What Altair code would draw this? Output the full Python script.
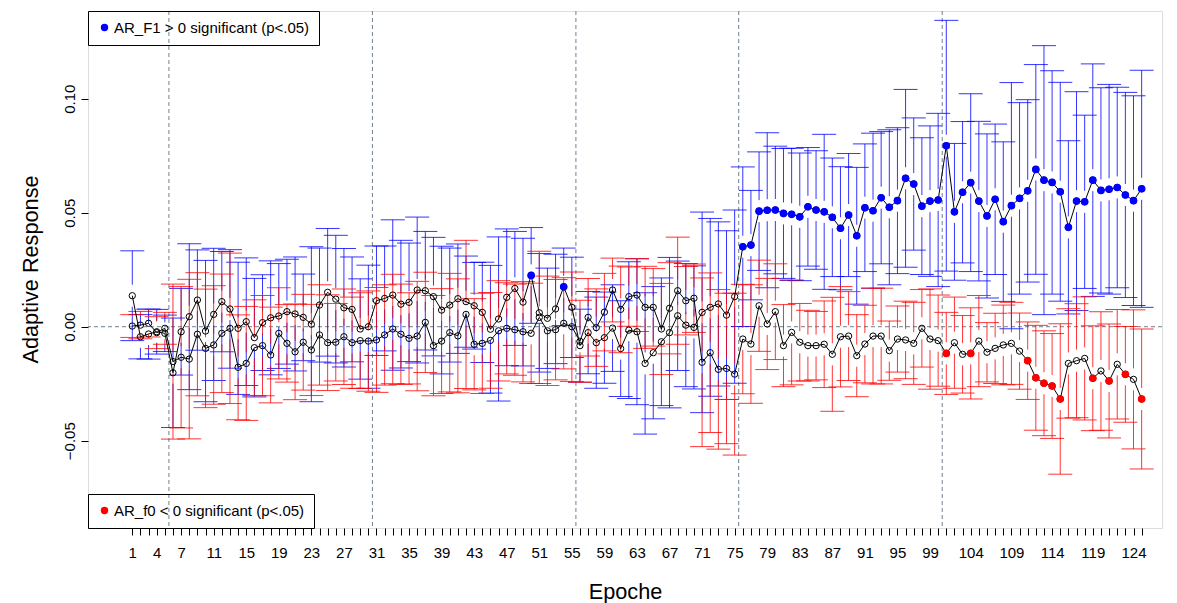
import altair as alt
import pandas as pd

# ---- data -------------------------------------------------------------
epochs = list(range(1, 126))

# adaptive response for F1 (mean) and its 95% CI half-width
ar_f1 = [
    0.0136, -0.0044, -0.0032, -0.0022, -0.0029, -0.0202, -0.0022, 0.0044, 0.0117, -0.0019,
    0.0054, 0.0110, 0.0078, -0.0007, 0.0022,
    -0.0048, 0.0018, 0.0039, 0.0047, 0.0066, 0.0056, 0.0041, 0.0011, 0.0095, 0.0151,
    0.0121, 0.0083, 0.0076, -0.0010, 0.0000, 0.0114,
    0.0124, 0.0139, 0.0099, 0.0107, 0.0161, 0.0158, 0.0132, 0.0073, 0.0095, 0.0123,
    0.0110, 0.0092, 0.0063, -0.0011, 0.0034, 0.0129,
    0.0168, 0.0108, 0.0225, 0.0061, 0.0037, 0.0078, 0.0175, 0.0085, -0.0083, -0.0026,
    -0.0070, -0.0048, -0.0006, -0.0096, -0.0015, -0.0022,
    -0.0161, -0.0114, -0.0066, -0.0026, 0.0048, 0.0007, -0.0003, 0.0063, 0.0085, 0.0100,
    0.0051, 0.0132, 0.0351, 0.0358, 0.0507, 0.0511,
    0.0512, 0.0497, 0.0493, 0.0482, 0.0526, 0.0512, 0.0504, 0.0480, 0.0432, 0.0490,
    0.0399, 0.0522, 0.0509, 0.0566, 0.0524, 0.0553,
    0.0651, 0.0626, 0.0529, 0.0551, 0.0556, 0.0794, 0.0504, 0.0590, 0.0632, 0.0551,
    0.0486, 0.0559, 0.0461, 0.0531, 0.0563, 0.0596,
    0.0690, 0.0643, 0.0633, 0.0592, 0.0436, 0.0551, 0.0548, 0.0643, 0.0598, 0.0603,
    0.0611, 0.0578, 0.0553, 0.0605,
]
ar_f1_ci = [
    0.0197, 0.0097, 0.0110, 0.0098, 0.0080, 0.024, 0.019, 0.032, 0.022, 0.031,
    0.029, 0.022, 0.026, 0.029, 0.028,
    0.026, 0.021, 0.025, 0.023, 0.023, 0.025, 0.019, 0.034, 0.025, 0.028,
    0.028, 0.026, 0.023, 0.022, 0.027, 0.024,
    0.023, 0.033, 0.028, 0.026, 0.032, 0.026, 0.026, 0.028, 0.025, 0.024,
    0.020, 0.019, 0.022, 0.028, 0.036, 0.030,
    0.025, 0.028, 0.021, 0.026, 0.022, 0.024, 0.017, 0.022, 0.016, 0.018,
    0.020, 0.020, 0.019, 0.021, 0.030, 0.032,
    0.031, 0.029, 0.028, 0.033, 0.024, 0.027, 0.027, 0.044, 0.039, 0.036,
    0.037, 0.038, 0.035, 0.024, 0.026, 0.034,
    0.028, 0.0285, 0.029, 0.028, 0.026, 0.026, 0.034, 0.026, 0.027, 0.027,
    0.030, 0.028, 0.034, 0.029, 0.034, 0.032,
    0.039, 0.029, 0.030, 0.033, 0.038, 0.055, 0.030, 0.031, 0.039, 0.035,
    0.036, 0.033, 0.035, 0.054, 0.042, 0.040,
    0.046, 0.059, 0.049, 0.048, 0.038, 0.048, 0.038, 0.051, 0.045, 0.046,
    0.044, 0.045, 0.046, 0.052,
]

# adaptive response for f0 (mean) and its 95% CI half-width
ar_f0 = [
    0.0003, 0.0007, 0.0015, -0.0026, -0.0007, -0.0153, -0.0134, -0.0142, -0.0033, -0.0095,
    -0.0080, -0.0029, -0.0007, -0.0178, -0.0161,
    -0.0092, -0.0083, -0.0124, -0.0029, -0.0073, -0.0110, -0.0068, -0.0102, -0.0036, -0.0070,
    -0.0068, -0.0044, -0.0070, -0.0061, -0.0063, -0.0058,
    -0.0036, -0.0010, -0.0033, -0.0051, -0.0041, 0.0019, -0.0083, -0.0063, -0.0026, -0.0040,
    0.0054, -0.0077, -0.0073, -0.0060, -0.0018, -0.0007,
    -0.0013, -0.0022, -0.0029, 0.0041, -0.0018, -0.0013, 0.0015, 0.0000, -0.0064, 0.0041,
    -0.0004, 0.0064, 0.0161, 0.0076, 0.0132, 0.0139,
    0.0085, 0.0085, -0.0010, 0.0081, 0.0158, 0.0114, 0.0125, -0.0156, -0.0114, -0.0187,
    -0.0183, -0.0208, -0.0054, -0.0076, 0.0092, 0.0012,
    0.0066, -0.0083, -0.0025, -0.0068, -0.0083, -0.0083, -0.0077, -0.0121, -0.0044, -0.0041,
    -0.0127, -0.0076, -0.0041, -0.0041, -0.0105, -0.0054,
    -0.0058, -0.0073, -0.0007, -0.0054, -0.0061, -0.0117, -0.0070, -0.0121, -0.0117, -0.0063,
    -0.0112, -0.0095, -0.0080, -0.0073, -0.0107, -0.0149,
    -0.0224, -0.0248, -0.0260, -0.0317, -0.0161, -0.0149, -0.0139, -0.0226, -0.0194, -0.0238,
    -0.0165, -0.0209, -0.0231, -0.0317,
]
ar_f0_ci = [
    0.005, 0.006, 0.006, 0.007, 0.007, 0.034, 0.031, 0.035, 0.027, 0.026,
    0.026, 0.026, 0.033, 0.023, 0.025,
    0.021, 0.022, 0.021, 0.020, 0.017, 0.021, 0.021, 0.020, 0.022, 0.021,
    0.017, 0.021, 0.020, 0.021, 0.022, 0.023,
    0.022, 0.024, 0.022, 0.020, 0.024, 0.022, 0.022, 0.023, 0.026, 0.025,
    0.0325, 0.020, 0.022, 0.021, 0.022, 0.020,
    0.020, 0.022, 0.022, 0.029, 0.024, 0.022, 0.020, 0.024, 0.018, 0.017,
    0.017, 0.017, 0.014, 0.019, 0.013, 0.016,
    0.018, 0.017, 0.020, 0.020, 0.0235, 0.015, 0.015, 0.037, 0.035, 0.035,
    0.033, 0.0355, 0.024, 0.026, 0.020, 0.020,
    0.021, 0.018, 0.023, 0.017, 0.0155, 0.015, 0.019, 0.025, 0.022, 0.0195,
    0.018, 0.017, 0.021, 0.021, 0.013, 0.0145,
    0.017, 0.018, 0.017, 0.022, 0.020, 0.018, 0.020, 0.017, 0.020, 0.020,
    0.013, 0.0154, 0.0175, 0.018, 0.0167, 0.017,
    0.023, 0.023, 0.023, 0.033, 0.024, 0.025, 0.027, 0.023, 0.026, 0.025,
    0.024, 0.021, 0.0305, 0.0307,
]

# epochs with a significant test result (p < .05)
f1_sig_epochs = [50, 54] + list(range(76, 126))
f0_sig_epochs = [101, 104, 111, 112, 113, 114, 115, 119, 121, 123, 125]

# phase boundaries (between epochs) and the zero reference
phase_breaks = [5.5, 30.5, 55.5, 75.5, 100.5]
zero_line = [0.0]

# tick labels shown on the epoch axis
x_label_epochs = [1, 4, 7, 11, 15, 19, 23, 27, 31, 35, 39, 43, 47, 51, 55, 59, 63,
                  67, 71, 75, 79, 83, 87, 91, 95, 99, 104, 109, 114, 119, 124]
y_ticks = [-0.05, 0.0, 0.05, 0.10]

f1_label = "AR_F1 > 0 significant (p<.05)"
f0_label = "AR_f0 < 0 significant (p<.05)"

# ---- table -------------------------------------------------------------
df = pd.DataFrame({
    "epoch": epochs,
    "F1": ar_f1, "F1_ci": ar_f1_ci,
    "f0": ar_f0, "f0_ci": ar_f0_ci,
})
df["F1_sig"] = df["epoch"].isin(f1_sig_epochs)
df["f0_sig"] = df["epoch"].isin(f0_sig_epochs)

FONT = "Liberation Sans"
BLUE = "#0000FF"
RED = "#FF0000"
REFCOL = "#708090"

PLOT_W, PLOT_H = 1074, 517
Y_DOMAIN = [-0.0883, 0.1385]
x_scale = alt.Scale(domain=[-4.44, 127.5], nice=False, zero=False)
y_scale = alt.Scale(domain=Y_DOMAIN, nice=False, zero=False)

# error-bar stems leave an empty gap of ~11 px on each side of the point
GAP = 11 * (Y_DOMAIN[1] - Y_DOMAIN[0]) / PLOT_H

label_list = ",".join(str(v) for v in x_label_epochs)
x_axis = alt.Axis(
    values=epochs, format="d",
    labelExpr=f"indexof([{label_list}], datum.value) >= 0 ? datum.label : ''",
    labelOverlap=False, labelFlush=False, grid=False, domain=False,
    tickSize=7, tickColor="black", tickWidth=1,
    labelFont=FONT, labelFontSize=15, labelColor="black", labelPadding=10,
    titleFont=FONT, titleFontSize=21.7, titleFontWeight="normal", titleColor="black",
    titleY=70, titleBaseline="alphabetic",
)
y_axis = alt.Axis(
    values=y_ticks, format=".2f", grid=False, domain=False,
    tickSize=7, tickColor="black", tickWidth=1,
    labelFont=FONT, labelFontSize=15, labelColor="black",
    labelAngle=270, labelAlign="center", labelBaseline="alphabetic", labelPadding=7,
    titleFont=FONT, titleFontSize=21.7, titleFontWeight="normal", titleColor="black",
    titleAngle=270, titleX=-58, titleY=258, titleBaseline="middle", titleAlign="center",
)


def xenc():
    return alt.X("epoch:Q", scale=x_scale, axis=x_axis, title="Epoche")


def yenc(field):
    return alt.Y(f"{field}:Q", scale=y_scale, axis=y_axis, title="Adaptive Response")


base = alt.Chart(df)

# dashed reference lines
vlines = alt.Chart(pd.DataFrame({"epoch": phase_breaks})).mark_rule(
    color=REFCOL, strokeDash=[4, 3], strokeWidth=1
).encode(x=xenc())
hline = alt.Chart(pd.DataFrame({"v": zero_line})).mark_rule(
    color=REFCOL, strokeDash=[4, 3], strokeWidth=1
).encode(y=yenc("v"))


def error_bars(val, ci, color):
    src = base.transform_calculate(
        lo=f"datum.{val} - datum.{ci}",
        hi=f"datum.{val} + datum.{ci}",
        glo=f"datum.{val} - {GAP}",
        ghi=f"datum.{val} + {GAP}",
    )
    style = dict(color=color, opacity=0.8, strokeWidth=1)
    stem_lo = src.transform_filter("datum.lo < datum.glo").mark_rule(**style).encode(
        x=xenc(), y=yenc("lo"), y2="glo:Q"
    )
    stem_hi = src.transform_filter("datum.hi > datum.ghi").mark_rule(**style).encode(
        x=xenc(), y=yenc("ghi"), y2="hi:Q"
    )
    caps = src.transform_fold(["lo", "hi"], as_=["end", "yv"]).mark_tick(
        orient="horizontal", size=24, thickness=1, color=color, opacity=0.8
    ).encode(x=xenc(), y=yenc("yv"))
    return stem_lo + stem_hi + caps


def series_line(val):
    return base.mark_line(color="black", strokeWidth=1).encode(x=xenc(), y=yenc(val))


open_pts = base.transform_fold(["F1", "f0"], as_=["series", "val"]).mark_point(
    shape="circle", filled=False, color="black", size=40, strokeWidth=1, opacity=1
).encode(x=xenc(), y=yenc("val"), detail="series:N")


def sig_points(val, flag, label, color, orient):
    return base.transform_filter(f"datum.{flag}").transform_calculate(
        lab=f"'{label}'"
    ).mark_circle(size=58, opacity=1).encode(
        x=xenc(), y=yenc(val),
        color=alt.Color(
            "lab:N",
            scale=alt.Scale(domain=[label], range=[color]),
            title=None,
            legend=alt.Legend(
                orient=orient, offset=0, padding=9,
                strokeColor="black",
                symbolType="circle", symbolSize=55, symbolStrokeWidth=0,
                symbolOpacity=1,
                labelFont=FONT, labelFontSize=15, labelColor="black",
                labelLimit=400, labelOffset=2,
            ),
        ),
    )


chart = alt.layer(
    vlines, hline,
    error_bars("F1", "F1_ci", BLUE),
    error_bars("f0", "f0_ci", RED),
    series_line("F1"), series_line("f0"),
    open_pts,
    sig_points("F1", "F1_sig", f1_label, BLUE, "top-left"),
    sig_points("f0", "f0_sig", f0_label, RED, "bottom-left"),
).resolve_scale(color="independent").properties(
    width=PLOT_W, height=PLOT_H,
    autosize=alt.AutoSizeParams(type="none"),
    padding={"left": 88, "top": 11, "right": 15, "bottom": 75},
    background="white",
).configure_view(stroke="black", strokeWidth=1).configure(font=FONT)

chart.save("out.html", embed_options={"renderer": "svg", "actions": False})
